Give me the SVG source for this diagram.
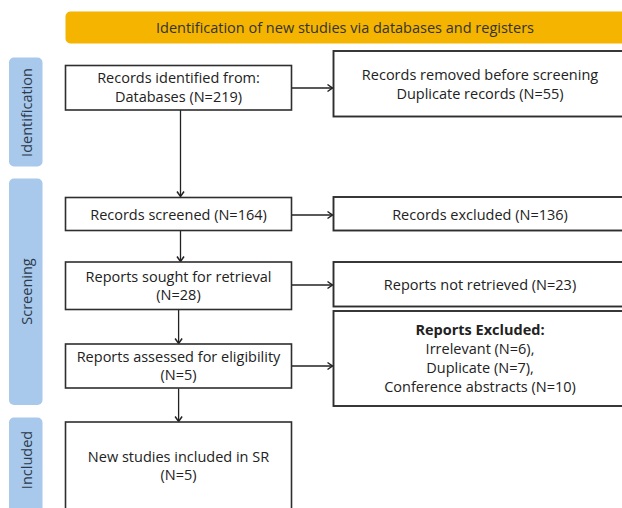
<svg xmlns="http://www.w3.org/2000/svg" width="622" height="508" viewBox="0 0 622 508">
<style>
.box{fill:#fff;stroke:#2e2e2e;stroke-width:1.6}
.rbox{fill:#fff;stroke:#2e2e2e;stroke-width:1.9}
.bar{fill:#a8c8ec}
.t{font-family:"Open Sans","Liberation Sans",sans-serif;font-size:14.5px;fill:#222;text-anchor:middle}
.b{font-weight:bold}
.side{font-family:"Open Sans","Liberation Sans",sans-serif;font-size:14.5px;fill:#2c3a4a;text-anchor:middle}
.ban{font-family:"Open Sans","Liberation Sans",sans-serif;font-size:14.5px;fill:#333;text-anchor:middle}
.c{stroke:#222;stroke-width:1.3;fill:none;marker-end:url(#ah)}
</style>
<defs>
<marker id="ah" markerWidth="10" markerHeight="10" refX="7" refY="5" orient="auto" markerUnits="userSpaceOnUse">
<path d="M2,1.5 L7,5 L2,8.5" fill="none" stroke="#222" stroke-width="1.5"/>
</marker>
</defs>
<rect width="622" height="508" fill="#fff"/>
<g id="banner">
<rect x="65.5" y="11.5" width="570" height="32" rx="5" fill="#f4b400"/>
<text class="ban" x="345" y="32.5">Identification of new studies via databases and registers</text>
</g>
<g id="side-identification">
<rect class="bar" x="9" y="57.5" width="33.5" height="109" rx="5"/>
<text class="side" transform="translate(32.3,112.5) rotate(-90)">Identification</text>
</g>
<g id="side-screening">
<rect class="bar" x="9" y="178.5" width="33.5" height="226.5" rx="5"/>
<text class="side" transform="translate(32.3,291.5) rotate(-90)">Screening</text>
</g>
<g id="side-included">
<rect class="bar" x="9" y="417.5" width="33.5" height="100" rx="5"/>
<text class="side" transform="translate(32.3,460) rotate(-90)">Included</text>
</g>
<g id="connectors">
<line class="c" x1="180.5" y1="110" x2="180.5" y2="196.5"/>
<line class="c" x1="180.5" y1="231" x2="180.5" y2="261.5"/>
<line class="c" x1="178.6" y1="309.5" x2="178.6" y2="343.5"/>
<line class="c" x1="178.6" y1="388.5" x2="178.6" y2="421.5"/>
<line class="c" x1="291.5" y1="88" x2="332.5" y2="88"/>
<line class="c" x1="291.5" y1="215" x2="332.5" y2="215"/>
<line class="c" x1="291.5" y1="285" x2="332.5" y2="285"/>
<line class="c" x1="291.5" y1="366" x2="332.5" y2="366"/>
</g>
<g id="records-identified">
<rect class="box" x="65.5" y="65.5" width="226" height="44.5"/>
<text class="t" x="178.5" y="83">Records identified from:</text>
<text class="t" x="178.5" y="102">Databases (N=219)</text>
</g>
<g id="records-removed">
<rect class="rbox" x="333.5" y="51" width="300" height="65.5"/>
<text class="t" x="480" y="80">Records removed before screening</text>
<text class="t" x="480" y="98.5">Duplicate records (N=55)</text>
</g>
<g id="records-screened">
<rect class="box" x="65.5" y="197.5" width="226" height="33"/>
<text class="t" x="178.5" y="220">Records screened (N=164)</text>
</g>
<g id="records-excluded">
<rect class="rbox" x="333.5" y="197" width="300" height="33.5"/>
<text class="t" x="480" y="219.5">Records excluded (N=136)</text>
</g>
<g id="reports-sought">
<rect class="box" x="65.5" y="262" width="226" height="47.5"/>
<text class="t" x="178.5" y="281.5">Reports sought for retrieval</text>
<text class="t" x="178.5" y="300">(N=28)</text>
</g>
<g id="reports-not-retrieved">
<rect class="rbox" x="333.5" y="262" width="300" height="44.5"/>
<text class="t" x="480" y="290">Reports not retrieved (N=23)</text>
</g>
<g id="reports-assessed">
<rect class="box" x="65.5" y="344" width="226" height="44"/>
<text class="t" x="178.5" y="361.5">Reports assessed for eligibility</text>
<text class="t" x="178.5" y="380">(N=5)</text>
</g>
<g id="reports-excluded">
<rect class="rbox" x="333.5" y="311" width="300" height="95"/>
<text class="t b" x="480" y="335">Reports Excluded:</text>
<text class="t" x="480" y="353.5">Irrelevant (N=6),</text>
<text class="t" x="480" y="372.5">Duplicate (N=7),</text>
<text class="t" x="480" y="391.5">Conference abstracts (N=10)</text>
</g>
<g id="new-studies">
<rect class="box" x="65.5" y="422" width="226" height="100"/>
<text class="t" x="178.5" y="461.5">New studies included in SR</text>
<text class="t" x="178.5" y="480">(N=5)</text>
</g>
</svg>
